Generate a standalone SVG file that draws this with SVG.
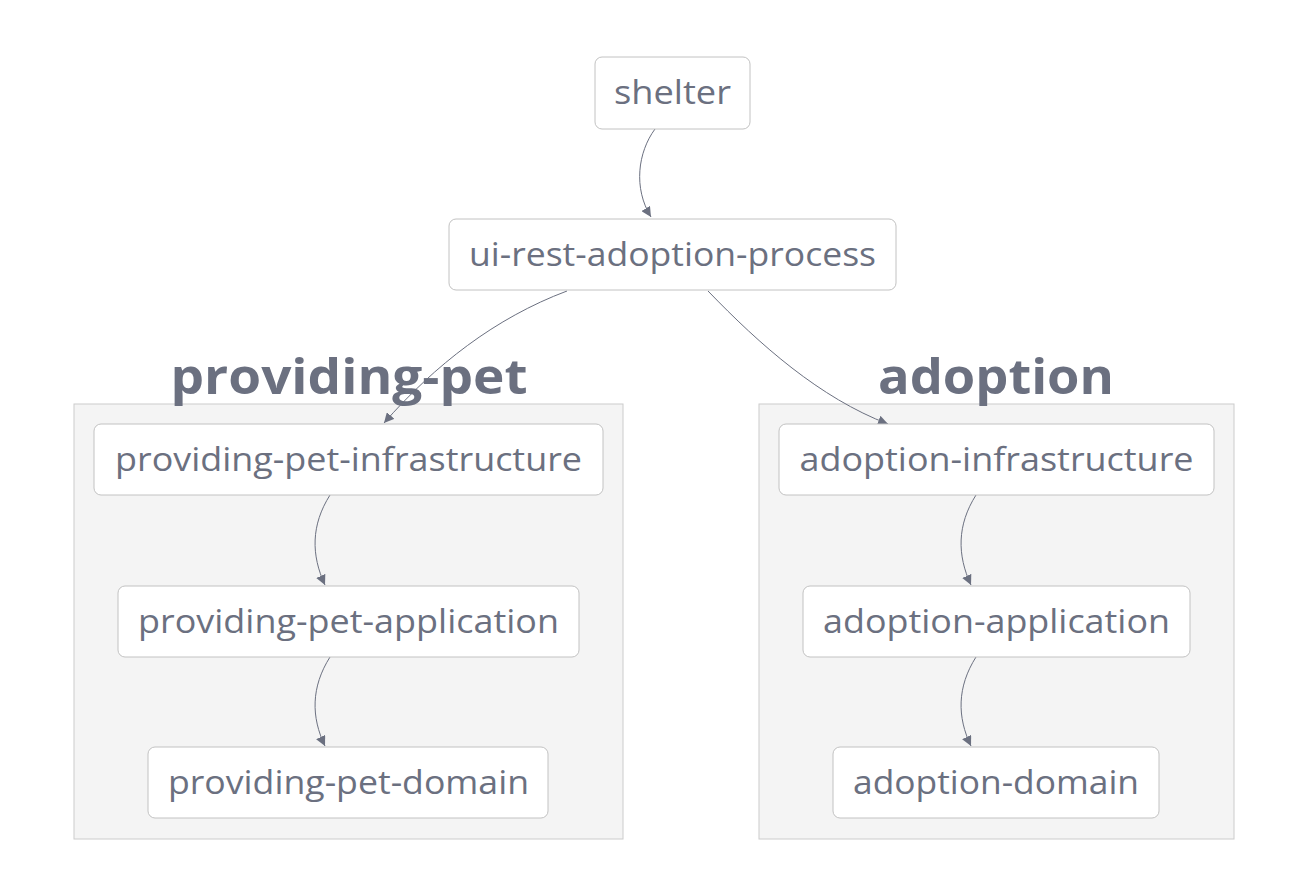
<svg xmlns="http://www.w3.org/2000/svg" width="1290" height="888" viewBox="0 0 1290 888">
<defs>
<style>
.node rect{fill:#ffffff;stroke:#c2c2c2;stroke-width:1}
.node text{font-family:"Open Sans","Noto Sans",sans-serif;font-size:32px;fill:#6b7080;text-anchor:middle}
.cluster rect{fill:#f4f4f4;stroke:#cccccc;stroke-width:1}
.cluster text{font-family:"Open Sans","Noto Sans",sans-serif;font-size:48px;font-weight:bold;fill:#6b7080;text-anchor:middle}
.edges path{fill:none;stroke:#6b7080;stroke-width:1}
</style>
<marker id="arrow" viewBox="0 0 10 10" refX="10" refY="5" markerWidth="10" markerHeight="10" markerUnits="userSpaceOnUse" orient="auto">
<path d="M0,0 L10,5 L0,10 z" fill="#6b7080"/>
</marker>
</defs>
<rect width="1290" height="888" fill="#ffffff"/>
<g id="cluster-providing-pet" class="cluster">
<rect x="74" y="404" width="549" height="435"/>
<text x="349" y="394" textLength="357" lengthAdjust="spacingAndGlyphs">providing-pet</text>
</g>
<g id="cluster-adoption" class="cluster">
<rect x="759" y="404" width="475" height="435"/>
<text x="996" y="394" textLength="236" lengthAdjust="spacingAndGlyphs">adoption</text>
</g>
<g id="edges" class="edges">
<path d="M655,129 C638,152 633,188 651,217" marker-end="url(#arrow)"/>
<path d="M567,291 C495,318 435,365 384,423" marker-end="url(#arrow)"/>
<path d="M708,291 C760,345 820,398 888,424" marker-end="url(#arrow)"/>
<path d="M330,495 C311,525 311,555 325,585" marker-end="url(#arrow)"/>
<path d="M330,657 C311,687 311,717 325,746" marker-end="url(#arrow)"/>
<path d="M976,495 C957,525 957,555 971,585" marker-end="url(#arrow)"/>
<path d="M976,657 C957,687 957,717 971,746" marker-end="url(#arrow)"/>
</g>
<g id="node-shelter" class="node">
<rect x="595" y="57" width="155" height="72" rx="7"/>
<text x="672.5" y="104" textLength="117" lengthAdjust="spacingAndGlyphs">shelter</text>
</g>
<g id="node-ui-rest-adoption-process" class="node">
<rect x="449" y="219" width="447" height="71" rx="7"/>
<text x="672.5" y="266" textLength="407" lengthAdjust="spacingAndGlyphs">ui-rest-adoption-process</text>
</g>
<g id="node-providing-pet-infrastructure" class="node">
<rect x="94" y="424" width="509" height="71" rx="7"/>
<text x="348.5" y="471" textLength="467" lengthAdjust="spacingAndGlyphs">providing-pet-infrastructure</text>
</g>
<g id="node-providing-pet-application" class="node">
<rect x="118" y="586" width="461" height="71" rx="7"/>
<text x="348.5" y="633" textLength="421" lengthAdjust="spacingAndGlyphs">providing-pet-application</text>
</g>
<g id="node-providing-pet-domain" class="node">
<rect x="148" y="747" width="400" height="71" rx="7"/>
<text x="348.5" y="794" textLength="361" lengthAdjust="spacingAndGlyphs">providing-pet-domain</text>
</g>
<g id="node-adoption-infrastructure" class="node">
<rect x="779" y="424" width="435" height="71" rx="7"/>
<text x="996.5" y="471" textLength="394" lengthAdjust="spacingAndGlyphs">adoption-infrastructure</text>
</g>
<g id="node-adoption-application" class="node">
<rect x="803" y="586" width="387" height="71" rx="7"/>
<text x="996.5" y="633" textLength="347" lengthAdjust="spacingAndGlyphs">adoption-application</text>
</g>
<g id="node-adoption-domain" class="node">
<rect x="833" y="747" width="326" height="71" rx="7"/>
<text x="996" y="794" textLength="286" lengthAdjust="spacingAndGlyphs">adoption-domain</text>
</g>
</svg>
